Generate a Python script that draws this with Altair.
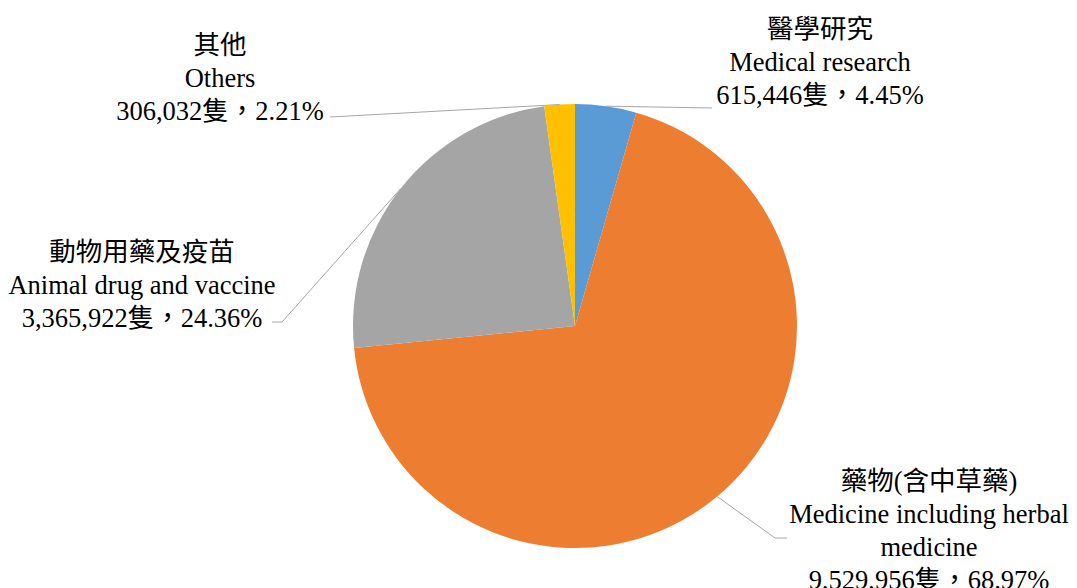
import math
import altair as alt
import pandas as pd

# ---- data ----
names_zh = ["醫學研究", "藥物(含中草藥)", "動物用藥及疫苗", "其他"]
names_en = ["Medical research", "Medicine including herbal\nmedicine", "Animal drug and vaccine", "Others"]
counts = [615446, 9529956, 3365922, 306032]
percents = [4.45, 68.97, 24.36, 2.21]
colors = ["#5B9BD5", "#ED7D31", "#A5A5A5", "#FFC000"]

# ---- layout (chart pixel space; label y = first line centre) ----
W, H = 1061, 580
CX, CY, R = 567, 318, 222
label_pos = [(812, 22), (921, 474), (134, 245), (212, 38)]
leader_pts = [[(704, 100)], [(767, 530), (779, 530)], [(274, 314), (264, 314)], [(322, 109)]]

total = sum(counts)
df = pd.DataFrame({
    "idx": list(range(len(counts))),
    "key": names_zh,
    "count": counts,
    "label": [f"{zh}\n{en}\n{c:,}隻，{p:.2f}%" for zh, en, c, p in zip(names_zh, names_en, counts, percents)],
    "lx": [p[0] for p in label_pos],
    "ly": [p[1] for p in label_pos],
})

# leader segments starting at slice mid-angle on the rim
segs = []
cum = 0
for i, c in enumerate(counts):
    mid = (cum + c / 2) / total * 2 * math.pi
    cum += c
    pts = [(CX + R * math.sin(mid), CY - R * math.cos(mid))] + leader_pts[i]
    for a, b in zip(pts[:-1], pts[1:]):
        segs.append({"x": a[0], "y": a[1], "x2": b[0], "y2": b[1]})
seg_df = pd.DataFrame(segs)

xs = alt.Scale(domain=[0, W], nice=False, zero=False)
ys = alt.Scale(domain=[0, H], nice=False, zero=False, reverse=True)

pie = alt.Chart(df).mark_arc(radius=R, stroke=None).encode(
    theta=alt.Theta("count:Q", stack=True),
    order=alt.Order("idx:Q"),
    color=alt.Color("key:N", scale=alt.Scale(domain=names_zh, range=colors), legend=None),
    x=alt.value(CX),
    y=alt.value(CY),
)

rules = alt.Chart(seg_df).mark_rule(color="#A6A6A6", strokeWidth=1).encode(
    x=alt.X("x:Q", scale=xs, axis=None),
    y=alt.Y("y:Q", scale=ys, axis=None),
    x2="x2:Q",
    y2="y2:Q",
)

labels = alt.Chart(df).mark_text(
    lineBreak="\n",
    font="Liberation Serif, Noto Sans CJK TC",
    fontSize=26.5,
    lineHeight=33,
    align="center",
    baseline="middle",
    color="#000000",
).encode(
    x=alt.X("lx:Q", scale=xs, axis=None),
    y=alt.Y("ly:Q", scale=ys, axis=None),
    text="label:N",
)

chart = alt.layer(pie, rules, labels).properties(
    width=W,
    height=H,
    padding=0,
    autosize=alt.AutoSizeParams(type="none"),
    background="white",
).configure_view(stroke=None)

chart.save("out.html", embed_options={"renderer": "svg", "actions": False})
